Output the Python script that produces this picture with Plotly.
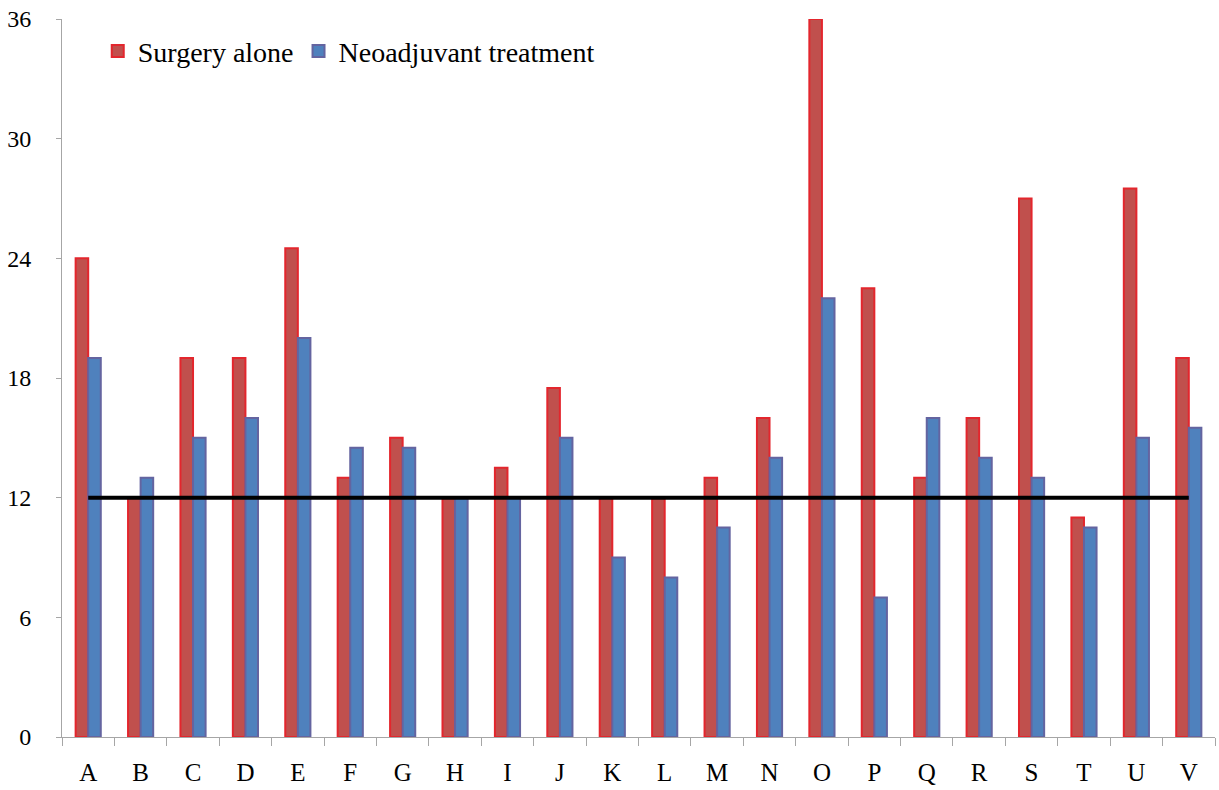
import plotly.graph_objects as go

categories = ["A","B","C","D","E","F","G","H","I","J","K","L","M","N","O","P","Q","R","S","T","U","V"]
surgery_alone = [24, 12, 19, 19, 24.5, 13, 15, 12, 13.5, 17.5, 12, 12, 13, 16, 36, 22.5, 13, 16, 27, 11, 27.5, 19]
neoadjuvant = [19, 13, 15, 16, 20, 14.5, 14.5, 12, 12, 15, 9, 8, 10.5, 14, 22, 7, 16, 14, 13, 10.5, 15, 15.5]
reference_value = 12
y_ticks = [0, 6, 12, 18, 24, 30, 36]

FONT = "Liberation Serif, Times New Roman, serif"

fig = go.Figure()
fig.add_trace(go.Bar(
    x=categories, y=surgery_alone, name="Surgery alone",
    marker=dict(color="#C0504D", line=dict(color="#E3262D", width=2)),
))
fig.add_trace(go.Bar(
    x=categories, y=neoadjuvant, name="Neoadjuvant treatment",
    marker=dict(color="#4F81BD", line=dict(color="#6464A0", width=2)),
))
fig.add_trace(go.Scatter(
    x=categories, y=[reference_value] * len(categories), mode="lines",
    line=dict(color="black", width=4), showlegend=False, hoverinfo="skip",
))

fig.update_layout(
    width=1219, height=790,
    margin=dict(l=62, r=4, t=19, b=53, autoexpand=False),
    paper_bgcolor="white", plot_bgcolor="white",
    barmode="group", bargap=0.52, bargroupgap=0,
    font=dict(family=FONT, size=24, color="black"),
    showlegend=True,
    legend=dict(
        orientation="h", x=0.031, y=0.99, xanchor="left", yanchor="top",
        font=dict(family=FONT, size=28, color="black"),
        bgcolor="rgba(0,0,0,0)", traceorder="normal",
        itemwidth=30, tracegroupgap=0,
    ),
    xaxis=dict(
        type="category", showgrid=False, showline=True, linecolor="#A6A6A6", linewidth=1,
        ticks="outside", tickson="boundaries", ticklen=8, tickcolor="#A6A6A6",
        ticklabelstandoff=13, tickfont=dict(family=FONT, size=25), automargin=False,
    ),
    yaxis=dict(
        range=[0, 36], tickvals=y_ticks, showgrid=False, zeroline=False,
        showline=True, linecolor="#A6A6A6", linewidth=1,
        ticks="outside", ticklen=5, tickcolor="#A6A6A6",
        ticklabelstandoff=20, tickfont=dict(family=FONT, size=24), automargin=False,
    ),
)

fig.write_html(
    "out.html",
    config={"displayModeBar": False},
    post_script="document.body.style.margin='0';document.body.style.padding='0';",
)
